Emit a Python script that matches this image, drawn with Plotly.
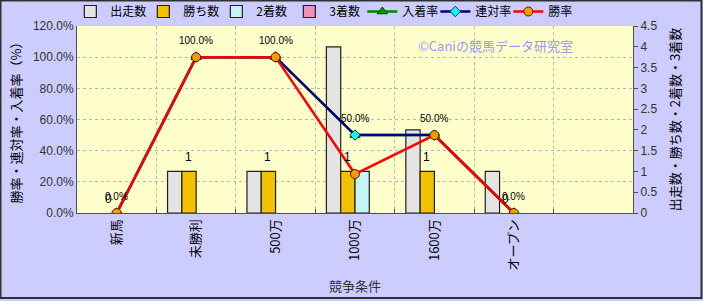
import plotly.graph_objects as go

categories = ["新馬", "未勝利", "500万", "1000万", "1600万", "オープン"]
starts = [0, 1, 1, 4, 2, 1]        # 出走数
wins = [0, 1, 1, 1, 1, 0]          # 勝ち数
seconds = [0, 0, 0, 1, 0, 0]       # 2着数
thirds = [0, 0, 0, 0, 0, 0]        # 3着数
place_rate = [0, 100, 100, 50, 50, 0]   # 入着率
rentai_rate = [0, 100, 100, 50, 50, 0]  # 連対率
win_rate = [0, 100, 100, 25, 50, 0]     # 勝率

x = list(range(len(categories)))

W, H = 703, 301
L, R, T, B = 77, 70, 26, 88
FONT = "Noto Sans CJK JP"

fig = go.Figure()
bar_specs = [
    ("出走数", starts, "#e4e4e4"),
    ("勝ち数", wins, "#f2c200"),
    ("2着数", seconds, "#c4f4f4"),
    ("3着数", thirds, "#f090bc"),
]
for name, vals, col in bar_specs:
    fig.add_trace(go.Bar(
        x=x, y=[v if v else None for v in vals], name=name, yaxis="y",
        marker=dict(color=col, line=dict(color="#202020", width=1.2)),
    ))

fig.add_trace(go.Scatter(
    x=x, y=place_rate, name="入着率", yaxis="y2", mode="lines+markers",
    line=dict(color="#008000", width=2.5),
    marker=dict(symbol="triangle-up", size=9, color="#00a000",
                line=dict(color="#004000", width=1)),
))
fig.add_trace(go.Scatter(
    x=x, y=rentai_rate, name="連対率", yaxis="y2", mode="lines+markers",
    line=dict(color="#000080", width=2.5),
    marker=dict(symbol="diamond", size=8, color="#00ffff",
                line=dict(color="#003030", width=1)),
))
fig.add_trace(go.Scatter(
    x=x, y=win_rate, name="勝率", yaxis="y2", mode="lines+markers",
    line=dict(color="#ff0000", width=2.5),
    marker=dict(symbol="circle", size=9, color="#ff9900",
                line=dict(color="#402000", width=1)),
))

annotations = []
for i, v in zip(x, rentai_rate):
    annotations.append(dict(
        x=i, y=v, xref="x", yref="y2", text=f"{v:.1f}%", showarrow=False,
        yshift=17, font=dict(family="Liberation Sans", size=10, color="#000000"),
    ))
for i, v in zip(x, wins):
    annotations.append(dict(
        x=i, y=v, xref="x", yref="y", text=str(v), showarrow=False,
        xshift=-8, yshift=14, font=dict(family="Liberation Sans", size=12, color="#000000"),
    ))
annotations.append(dict(
    x=0.752, y=0.895, xref="paper", yref="paper", xanchor="center", yanchor="middle",
    text="©Caniの競馬データ研究室",
    showarrow=False, font=dict(family=FONT, size=13, color="#9a9af0"),
))

pw = W - L - R
ph = H - T - B
shapes = [dict(
    type="rect", xref="paper", yref="paper",
    x0=-L / pw + 0.5 / pw, x1=1 + R / pw - 1.5 / pw,
    y0=-B / ph + 3 / ph, y1=1 + T / ph - 0.5 / ph,
    line=dict(color="#303030", width=2), fillcolor="rgba(0,0,0,0)", layer="above",
)]

fig.update_layout(
    width=W, height=H,
    margin=dict(l=L, r=R, t=T, b=B, autoexpand=False),
    paper_bgcolor="#ccccff", plot_bgcolor="#ffffcc",
    font=dict(family=FONT, size=12, color="#000000"),
    barmode="group", bargap=0.28, bargroupgap=0,
    showlegend=True,
    legend=dict(orientation="h", x=-0.012, xanchor="left", y=1.0, yanchor="bottom",
                font=dict(family=FONT, size=12, color="#000000"),
                bgcolor="rgba(0,0,0,0)", itemwidth=30, entrywidth=28,
                traceorder="normal", tracegroupgap=0),
    xaxis=dict(
        range=[-0.5, 6.5], tickmode="array", tickvals=x, ticktext=categories,
        tickangle=-90, showgrid=False, showline=True, linecolor="#505050", linewidth=1,
        tickfont=dict(family=FONT, size=13, color="#000000"),
        ticks="", zeroline=False,
        minor=dict(tickmode="array", tickvals=[i + 0.5 for i in x],
                   showgrid=True, gridcolor="#b8b8b8", griddash="dot", gridwidth=1,
                   ticks="inside", ticklen=4, tickcolor="#505050"),
        title=dict(text="競争条件", font=dict(family=FONT, size=13, color="#333333"), standoff=12),
    ),
    yaxis=dict(
        side="right", range=[0, 4.5], dtick=0.5, showgrid=False, zeroline=False,
        showline=True, linecolor="#505050", linewidth=1, ticks="outside", ticklen=4,
        tickcolor="#505050", tickfont=dict(family="Liberation Sans", size=12, color="#333333"),
        title=dict(text="出走数・勝ち数・2着数・3着数",
                   font=dict(family=FONT, size=13, color="#000000"), standoff=14),
    ),
    yaxis2=dict(
        side="left", overlaying="y", range=[0, 120], dtick=20, tickformat=".1f",
        ticksuffix="%", showgrid=True, gridcolor="#b8b8b8", griddash="dot", gridwidth=1,
        zeroline=False, showline=True, linecolor="#505050", linewidth=1, ticks="",
        tickfont=dict(family="Liberation Sans", size=12, color="#333333"),
        title=dict(text="勝率・連対率・入着率（%）",
                   font=dict(family=FONT, size=13, color="#000000"), standoff=8),
    ),
    annotations=annotations,
    shapes=shapes,
)

fig.write_html("out.html")
